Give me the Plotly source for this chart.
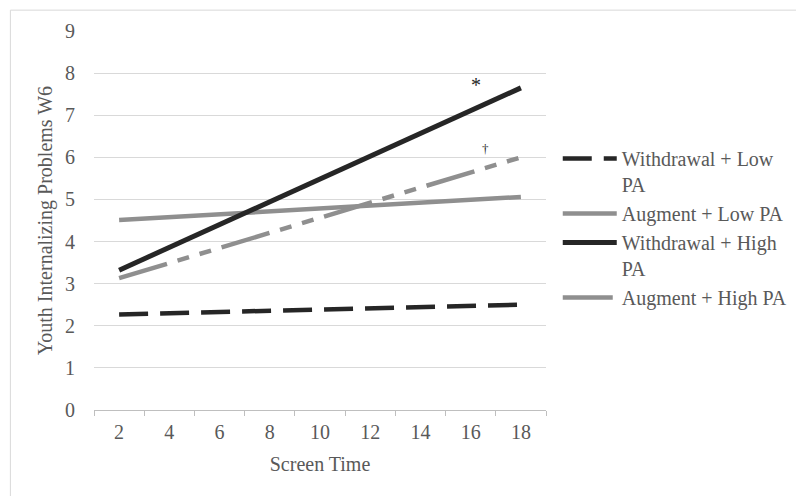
import plotly.graph_objects as go

categories = ["2", "4", "6", "8", "10", "12", "14", "16", "18"]
x_ends = ["2", "18"]
withdrawal_low_pa = [2.27, 2.50]
augment_low_pa = [4.51, 5.06]
withdrawal_high_pa = [3.32, 7.65]
augment_high_pa = [3.13, 6.00]
series_names = ["Withdrawal + Low<br>PA", "Augment + Low PA", "Withdrawal + High<br>PA", "Augment + High PA"]
y_ticks = [0, 1, 2, 3, 4, 5, 6, 7, 8, 9]

FONT = "Liberation Serif, Times New Roman, serif"
TXT = "#595959"
BLACK = "#262626"
GRAY = "#8f8f8f"
FS = 20

fig = go.Figure()
fig.add_trace(go.Scatter(x=x_ends, y=withdrawal_low_pa, mode="lines", name=series_names[0],
                         line=dict(color=BLACK, width=4.5, dash="29px,12px")))
fig.add_trace(go.Scatter(x=x_ends, y=augment_low_pa, mode="lines", name=series_names[1],
                         line=dict(color=GRAY, width=4.5)))
fig.add_trace(go.Scatter(x=x_ends, y=withdrawal_high_pa, mode="lines", name=series_names[2],
                         line=dict(color=BLACK, width=5)))
fig.add_trace(go.Scatter(x=x_ends, y=augment_high_pa, mode="lines", name=series_names[3],
                         line=dict(color=GRAY, width=4.5, dash="50px,11px,12px,11px,12px,11px")))

# page body has an 8px margin, so the figure is sized/offset to compensate
fig.update_layout(
    width=796, height=488,
    margin=dict(l=86, r=256, t=21, b=86),
    paper_bgcolor="white", plot_bgcolor="white",
    font=dict(family=FONT, size=FS, color=TXT),
    showlegend=True,
    legend=dict(x=1.026, xanchor="left", y=0.715, yanchor="top",
                font=dict(family=FONT, size=FS, color=TXT),
                itemwidth=54, valign="top", tracegroupgap=0,
                bgcolor="rgba(0,0,0,0)"),
    xaxis=dict(type="category", categoryorder="array", categoryarray=categories,
               range=[-0.5, 8.5], showgrid=False, showline=True, linecolor="#bfbfbf",
               linewidth=1, ticks="outside", tickson="boundaries", ticklen=5,
               tickcolor="#bfbfbf", ticklabelstandoff=4, zeroline=False,
               tickfont=dict(family=FONT, size=FS, color=TXT),
               title=dict(text="Screen Time", font=dict(family=FONT, size=FS, color=TXT), standoff=14)),
    yaxis=dict(range=[0, 9], tickvals=y_ticks, showgrid=True, gridcolor="#d9d9d9", gridwidth=1,
               zeroline=False, showline=False, ticks="", ticklabelstandoff=18,
               tickfont=dict(family=FONT, size=FS, color=TXT),
               title=dict(text="Youth Internalizing Problems W6",
                          font=dict(family=FONT, size=FS, color=TXT), standoff=7)),
    shapes=[dict(type="rect", xref="paper", yref="paper", x0=-0.185, x1=1.58, y0=-0.25, y1=1.055,
                 line=dict(color="#d9d9d9", width=1), layer="below")],
    annotations=[
        dict(x=7.10, y=7.72, xref="x", yref="y", text="*", showarrow=False,
             font=dict(family=FONT, size=FS, color=BLACK)),
        dict(x=7.29, y=6.21, xref="x", yref="y", text="†", showarrow=False,
             font=dict(family=FONT, size=13, color=BLACK)),
    ],
)

fig.write_html("out.html")
